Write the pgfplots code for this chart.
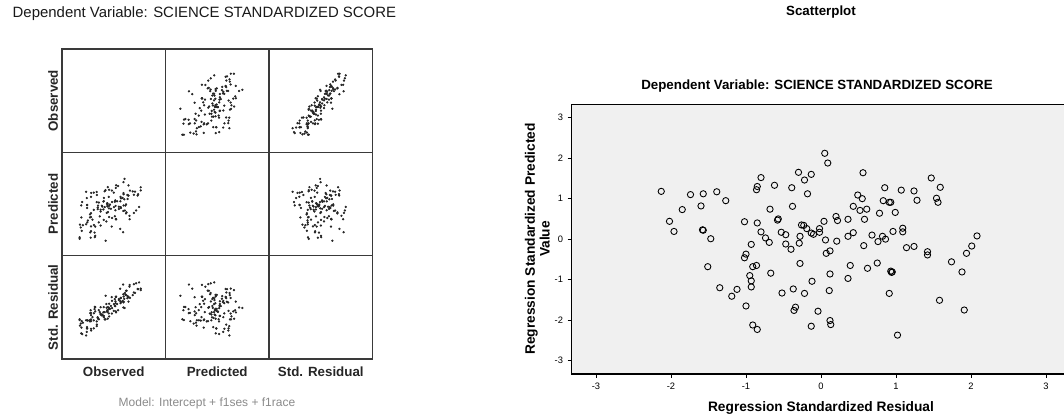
\documentclass[border=0pt]{standalone}
\usepackage{pgfplots}
\usepackage{pgfplotstable}
\pgfplotsset{compat=1.18}
\usepackage{fontspec}
\setmainfont{Liberation Sans}
\definecolor{plotbg}{HTML}{F0F0F0}
\definecolor{frameline}{HTML}{3A3A3A}
\definecolor{notegray}{HTML}{8A8A8A}

% R = standardized residual, P = standardized predicted, O = observed (standardized)
\pgfplotstableread{
R P O
-2.13 1.18 -1.36
-2.02 0.44 -1.60
-1.96 0.19 -1.66
-1.85 0.73 -1.32
-1.74 1.10 -1.05
-1.60 0.82 -1.06
-1.57 1.12 -0.89
-1.58 0.23 -1.30
-1.57 0.22 -1.30
-1.47 0.01 -1.30
-1.51 -0.68 -1.65
-1.39 1.17 -0.71
-1.27 0.95 -0.70
-1.35 -1.20 -1.74
-1.19 -1.41 -1.69
-1.12 -1.24 -1.56
-1.02 0.43 -0.71
-1.02 -0.46 -1.12
-1.00 -0.37 -1.06
-1.00 -1.65 -1.63
-0.93 -0.13 -0.89
-0.91 -0.68 -1.12
-0.86 -0.65 -1.06
-0.95 -0.90 -1.25
-0.93 -1.03 -1.29
-0.93 -1.18 -1.36
-0.91 -2.12 -1.76
-0.85 -2.23 -1.76
-0.85 0.40 -0.58
-0.80 0.18 -0.63
-0.74 0.03 -0.65
-0.69 -0.08 -0.65
-0.67 -0.84 -0.97
-0.86 1.22 -0.22
-0.85 1.30 -0.17
-0.80 1.52 -0.03
-0.62 1.33 0.05
-0.68 0.74 -0.27
-0.57 0.50 -0.28
-0.58 0.47 -0.30
-0.53 0.17 -0.40
-0.47 0.11 -0.37
-0.47 -0.12 -0.47
-0.40 -0.25 -0.47
-0.52 -1.33 -1.06
-0.39 1.27 0.22
-0.38 0.81 0.03
-0.37 -1.23 -0.88
-0.34 -1.68 -1.06
-0.36 -1.76 -1.11
-0.30 1.65 0.48
-0.22 1.46 0.46
-0.13 1.60 0.60
-0.18 1.12 0.34
-0.28 0.07 -0.22
-0.29 -0.10 -0.30
-0.28 -0.60 -0.52
-0.26 0.35 -0.07
-0.23 0.34 -0.05
-0.19 0.26 -0.05
-0.13 0.15 -0.05
-0.10 0.12 -0.04
-0.02 0.26 0.10
-0.02 0.17 0.06
-0.22 -1.34 -0.80
-0.12 -1.04 -0.58
-0.04 -1.78 -0.84
-0.13 -2.15 -1.08
0.05 2.12 1.00
0.09 1.88 0.93
0.04 0.44 0.23
0.06 -0.02 0.04
0.07 -0.35 -0.10
0.12 -0.29 -0.02
0.21 -0.05 0.16
0.20 0.56 0.43
0.22 0.46 0.40
0.36 0.49 0.54
0.36 0.07 0.35
0.43 0.16 0.45
0.39 -0.65 0.05
0.12 -0.86 -0.28
0.36 -0.97 -0.12
0.11 -1.27 -0.47
0.12 -2.01 -0.80
0.13 -2.11 -0.83
0.56 1.64 1.24
0.49 1.09 0.93
0.55 1.00 0.94
0.43 0.81 0.75
0.52 0.71 0.78
0.61 0.74 0.88
0.58 0.49 0.74
0.57 -0.16 0.44
0.62 -0.72 0.23
0.75 -0.59 0.40
0.68 0.10 0.65
0.76 -0.06 0.65
0.82 0.07 0.76
0.86 0.00 0.77
0.78 0.64 0.98
0.85 1.27 1.33
0.83 0.95 1.17
0.91 0.91 1.22
0.93 0.91 1.24
0.99 0.66 1.18
0.96 0.19 0.94
1.07 1.21 1.50
1.09 0.27 1.09
1.09 0.18 1.05
0.93 -0.79 0.47
0.94 -0.82 0.47
0.95 -0.81 0.48
0.91 -1.34 0.21
1.02 -2.37 -0.16
1.14 -0.21 0.92
1.24 -0.18 1.02
1.24 1.19 1.64
1.28 0.96 1.57
1.42 -0.31 1.12
1.42 -0.39 1.09
1.47 1.51 1.99
1.59 1.28 1.99
1.54 1.01 1.83
1.56 0.91 1.80
1.58 -1.51 0.73
1.74 -0.56 1.30
1.88 -0.81 1.31
1.91 -1.75 0.91
1.94 -0.35 1.57
2.01 -0.17 1.71
2.08 0.08 1.89
}\resid

\begin{document}
\begin{tikzpicture}
\useasboundingbox (0,0) rectangle (798pt,312.75pt);
\pgfplotsset{
  cell/.style={scale only axis, anchor=south west,
    width=77.625pt, height=77.475pt,
    xtick=\empty, ytick=\empty,
    axis line style={frameline, line width=1.1pt}},
  dots/.style={only marks, mark=*, mark size=0.65pt, black, mark options={draw=black!85, fill=black!85}},
  obsx/.style={xmin=-2.84, xmax=3.51},
  obsy/.style={ymin=-2.84, ymax=3.51},
  prex/.style={xmin=-3.45, xmax=4.05},
  prey/.style={ymin=-3.45, ymax=4.05},
  resx/.style={xmin=-4.0, xmax=4.2},
  resy/.style={ymin=-4.0, ymax=4.2},
}
% ---- row 1 (Observed)
\begin{axis}[cell, at={(46.5pt,198.525pt)}, xmin=0, xmax=1, ymin=0, ymax=1]
\end{axis}
\begin{axis}[cell, at={(124.125pt,198.525pt)}, prex, obsy]
\addplot[dots] table[x=P, y=O] {\resid};
\end{axis}
\begin{axis}[cell, at={(201.75pt,198.525pt)}, resx, obsy]
\addplot[dots] table[x=R, y=O] {\resid};
\end{axis}
% ---- row 2 (Predicted)
\begin{axis}[cell, at={(46.5pt,121.05pt)}, obsx, prey]
\addplot[dots] table[x=O, y=P] {\resid};
\end{axis}
\begin{axis}[cell, at={(124.125pt,121.05pt)}, xmin=0, xmax=1, ymin=0, ymax=1]
\end{axis}
\begin{axis}[cell, at={(201.75pt,121.05pt)}, resx, prey]
\addplot[dots] table[x=R, y=P] {\resid};
\end{axis}
% ---- row 3 (Std. Residual)
\begin{axis}[cell, at={(46.5pt,43.5pt)}, obsx, resy]
\addplot[dots] table[x=O, y=R] {\resid};
\end{axis}
\begin{axis}[cell, at={(124.125pt,43.5pt)}, prex, resy]
\addplot[dots] table[x=P, y=R] {\resid};
\end{axis}
\begin{axis}[cell, at={(201.75pt,43.5pt)}, xmin=0, xmax=1, ymin=0, ymax=1]
\end{axis}

% left texts
\node[anchor=west, font=\fontsize{11.2}{13}\selectfont, text=black!90] at (6pt,302.25pt) {Dependent Variable: SCIENCE STANDARDIZED SCORE};
\node[rotate=90, font=\fontsize{10}{12}\selectfont\bfseries, text=black!85] at (39.75pt,237.2pt) {Observed};
\node[rotate=90, font=\fontsize{10}{12}\selectfont\bfseries, text=black!85] at (39.75pt,159.75pt) {Predicted};
\node[rotate=90, font=\fontsize{10}{12}\selectfont\bfseries, text=black!85] at (39.75pt,82.3pt) {Std. Residual};
\node[font=\fontsize{10}{12}\selectfont\bfseries, text=black!85] at (85.3pt,33.75pt) {Observed};
\node[font=\fontsize{10}{12}\selectfont\bfseries, text=black!85] at (162.9pt,33.75pt) {Predicted};
\node[font=\fontsize{10}{12}\selectfont\bfseries, text=black!85] at (240.6pt,33.75pt) {Std. Residual};
\node[font=\fontsize{9}{11}\selectfont, text=notegray] at (155.25pt,10.5pt) {Model: Intercept + f1ses + f1race};

% right scatterplot
\begin{axis}[scale only axis, anchor=south west, at={(428.775pt,32.25pt)},
  width=373.95pt, height=202.275pt,
  xmin=-3.324, xmax=3.324, ymin=-3.33, ymax=3.33,
  xtick={-3,-2,-1,0,1,2,3}, ytick={-3,-2,-1,0,1,2,3},
  tick pos=left, tick align=outside, major tick length=3pt,
  tick style={black, line width=0.5pt},
  axis line style={black, line width=0.9pt},
  axis background/.style={fill=plotbg},
  tick label style={font=\fontsize{7}{8}\selectfont},
  /pgf/number format/assume math mode=true,
  clip=false]
\addplot[only marks, mark=o, mark size=2.35pt, mark options={draw=black, line width=0.65pt}] table[x=R, y=P] {\resid};
\end{axis}

\node[font=\fontsize{10}{12}\selectfont\bfseries] at (615.75pt,303.75pt) {Scatterplot};
\node[font=\fontsize{10}{12}\selectfont\bfseries] at (612.75pt,248.25pt) {Dependent Variable: SCIENCE STANDARDIZED SCORE};
\node[font=\fontsize{10.3}{12}\selectfont\bfseries] at (615.75pt,6.75pt) {Regression Standardized Residual};
\node[rotate=90, align=center, font=\fontsize{10.3}{11}\selectfont\bfseries] at (403pt,133.5pt) {Regression Standardized Predicted\\Value};
\end{tikzpicture}
\end{document}
